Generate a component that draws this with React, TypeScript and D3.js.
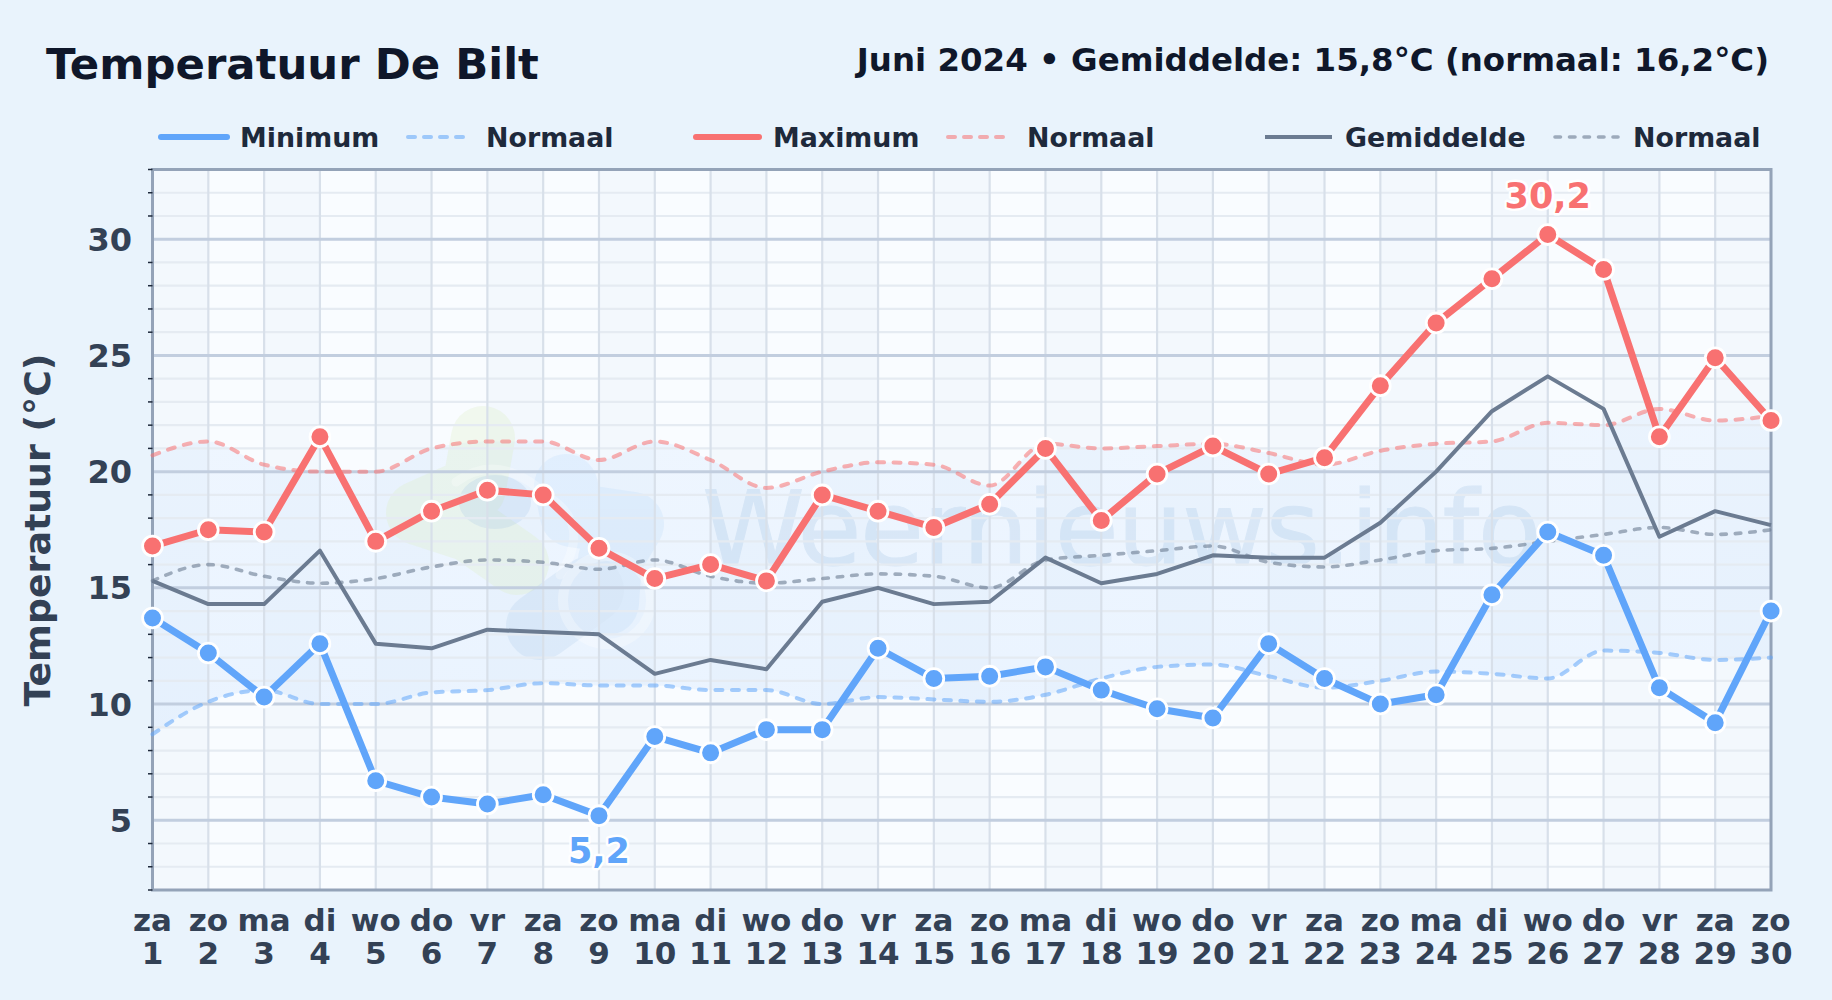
import * as d3 from "d3";

const weekdays = ["za", "zo", "ma", "di", "wo", "do", "vr", "za", "zo", "ma", "di", "wo", "do", "vr", "za", "zo", "ma", "di", "wo", "do", "vr", "za", "zo", "ma", "di", "wo", "do", "vr", "za", "zo"];
const days = d3.range(1, 31);

const tempMin = [13.7, 12.2, 10.3, 12.6, 6.7, 6.0, 5.7, 6.1, 5.2, 8.6, 7.9, 8.9, 8.9, 12.4, 11.1, 11.2, 11.6, 10.6, 9.8, 9.4, 12.6, 11.1, 10.0, 10.4, 14.7, 17.4, 16.4, 10.7, 9.2, 14.0];
const tempMax = [16.8, 17.5, 17.4, 21.5, 17.0, 18.3, 19.2, 19.0, 16.7, 15.4, 16.0, 15.3, 19.0, 18.3, 17.6, 18.6, 21.0, 17.9, 19.9, 21.1, 19.9, 20.6, 23.7, 26.4, 28.3, 30.2, 28.7, 21.5, 24.9, 22.2];
const tempMean = [15.3, 14.3, 14.3, 16.6, 12.6, 12.4, 13.2, 13.1, 13.0, 11.3, 11.9, 11.5, 14.4, 15.0, 14.3, 14.4, 16.3, 15.2, 15.6, 16.4, 16.3, 16.3, 17.8, 20.0, 22.6, 24.1, 22.7, 17.2, 18.3, 17.7];
const normalMin = [8.7, 10.1, 10.6, 10.0, 10.0, 10.5, 10.6, 10.9, 10.8, 10.8, 10.6, 10.6, 10.0, 10.3, 10.2, 10.1, 10.4, 11.1, 11.6, 11.7, 11.2, 10.7, 11.0, 11.4, 11.3, 11.1, 12.3, 12.2, 11.9, 12.0];
const normalMax = [20.7, 21.3, 20.3, 20.0, 20.0, 21.0, 21.3, 21.3, 20.5, 21.3, 20.5, 19.3, 20.0, 20.4, 20.3, 19.4, 21.2, 21.0, 21.1, 21.2, 20.8, 20.3, 20.9, 21.2, 21.3, 22.1, 22.0, 22.7, 22.2, 22.4];
const normalMean = [15.3, 16.0, 15.5, 15.2, 15.4, 15.9, 16.2, 16.1, 15.8, 16.2, 15.5, 15.2, 15.4, 15.6, 15.5, 15.0, 16.2, 16.4, 16.6, 16.8, 16.1, 15.9, 16.2, 16.6, 16.7, 17.0, 17.3, 17.6, 17.3, 17.5];

const BLUE = "#60a5fa";
const RED = "#f87171";
const GREY = "#6b7b91";
const FONT = "'DejaVu Sans', sans-serif";

const width = 1832;
const height = 1000;
const margin = { top: 169.5, right: 61, bottom: 110, left: 152.5 };

const x = d3.scalePoint(days, [margin.left, width - margin.right]);
const y = d3.scaleLinear([2, 33], [height - margin.bottom, margin.top]);

const straight = d3.line<number>().x((_, i) => x(days[i]) ?? 0).y((d) => y(d));
const smooth = d3.line<number>().x((_, i) => x(days[i]) ?? 0).y((d) => y(d)).curve(d3.curveMonotoneX);
const band = d3
  .area<number>()
  .x((_, i) => x(days[i]) ?? 0)
  .y0((_, i) => y(normalMin[i]))
  .y1((d) => y(d))
  .curve(d3.curveMonotoneX);

const majorTicks = y.ticks(6).filter((t) => t >= 5);
const minorTicks = d3.range(2, 34).filter((t) => t % 5 !== 0);

const legendItems = [
  { label: "Minimum", x0: 161, x1: 227, tx: 240, color: BLUE, w: 6, dash: "", opacity: 1 },
  { label: "Normaal", x0: 408, x1: 463, tx: 486, color: BLUE, w: 4, dash: "7 9", opacity: 0.55 },
  { label: "Maximum", x0: 696, x1: 759, tx: 773, color: RED, w: 6, dash: "", opacity: 1 },
  { label: "Normaal", x0: 948, x1: 1004, tx: 1027, color: RED, w: 4, dash: "7 9", opacity: 0.55 },
  { label: "Gemiddelde", x0: 1265, x1: 1332, tx: 1345, color: GREY, w: 4, dash: "", opacity: 1 },
  { label: "Normaal", x0: 1555, x1: 1618, tx: 1633, color: GREY, w: 3.6, dash: "5.5 9", opacity: 0.6 },
];

function Dots({ values, color }: { values: number[]; color: string }) {
  return (
    <g>
      {values.map((v, i) => (
        <circle key={i} cx={x(days[i])} cy={y(v)} r={9.9} fill={color} stroke="#fff" strokeWidth={2.8} />
      ))}
    </g>
  );
}

// faint logo and site name behind the lines
function Watermark() {
  return (
    <g>
      <g fill="none" strokeLinecap="round" strokeLinejoin="round">
        <path d="M483 438 L474 488 L418 513 L470 530 L517 563" stroke="#dff0c8" strokeWidth={64} opacity={0.3} />
        <g opacity={0.15}>
          <path d="M566 486 L572 515 L632 524 L610 560 L607 603" stroke="#9cc9f5" strokeWidth={64} />
          <path d="M590 590 L540 626" stroke="#8ab4e0" strokeWidth={68} />
        </g>
        <circle cx={607} cy={600} r={44} stroke="#fff" strokeWidth={10} opacity={0.3} />
        <path d="M456 482 Q500 450 550 498 Q592 525 560 575" stroke="#fff" strokeWidth={9} opacity={0.28} />
      </g>
      <ellipse cx={495} cy={502} rx={36} ry={27} fill="#8ab4e0" opacity={0.17} />
      <text
        x={702}
        y={565}
        fontFamily={FONT}
        fontSize={104}
        letterSpacing={-1.3}
        fill="#6b9fd0"
        stroke="#6b9fd0"
        strokeWidth={1}
        opacity={0.15}
      >
        Weernieuws.info
      </text>
    </g>
  );
}

export default function App() {
  const top = margin.top;
  const bottom = height - margin.bottom;
  const left = margin.left;
  const right = width - margin.right;
  const step = x.step();

  return (
    <svg
      width={width}
      height={height}
      viewBox={`0 0 ${width} ${height}`}
      style={{ position: "absolute", left: 0, top: 0, display: "block" }}
      fontFamily={FONT}
    >
      <defs>
        <linearGradient id="bandFill" x1="0" y1="0" x2="0" y2="1">
          <stop offset="0" stopColor="#bfdbfe" stopOpacity={0.18} />
          <stop offset="1" stopColor="#bfdbfe" stopOpacity={0.26} />
        </linearGradient>
      </defs>
      <rect width={width} height={height} fill="#e9f3fc" />

      <text x={46} y={79} fontSize={43.4} fontWeight={700} fill="#0f172a">
        Temperatuur De Bilt
      </text>
      <text x={1769} y={71} textAnchor="end" fontSize={32.45} fontWeight={700} fill="#0f172a">
        Juni 2024 • Gemiddelde: 15,8°C (normaal: 16,2°C)
      </text>

      {legendItems.map((item, i) => (
        <g key={i}>
          <line
            x1={item.x0}
            x2={item.x1}
            y1={137}
            y2={137}
            stroke={item.color}
            strokeWidth={item.w}
            strokeDasharray={item.dash || undefined}
            strokeLinecap={item.label === "Gemiddelde" ? "butt" : "round"}
            opacity={item.opacity}
          />
          <text x={item.tx} y={146.5} fontSize={26.85} fontWeight={700} fill="#1e293b">
            {item.label}
          </text>
        </g>
      ))}

      <rect x={left} y={top} width={right - left} height={bottom - top} fill="#f9fcff" />
      {days.slice(0, -1).map((d, i) =>
        i % 2 === 0 ? (
          <rect key={d} x={x(d)} y={top} width={step} height={bottom - top} fill="#f3f8fd" />
        ) : null
      )}
      <path d={band(normalMax) ?? ""} fill="url(#bandFill)" />
      <Watermark />

      {minorTicks.map((t) => (
        <line key={t} x1={left} x2={right} y1={y(t)} y2={y(t)} stroke="#e5ebf2" strokeWidth={2.2} />
      ))}
      {days.map((d) => (
        <line key={d} x1={x(d)} x2={x(d)} y1={top} y2={bottom} stroke="#d8e0ea" strokeWidth={2.2} />
      ))}
      {majorTicks.map((t) => (
        <line key={t} x1={left} x2={right} y1={y(t)} y2={y(t)} stroke="#c2cedf" strokeWidth={3} />
      ))}

      <rect x={left} y={top} width={right - left} height={bottom - top} fill="none" stroke="#94a3b8" strokeWidth={3} />

      {minorTicks.map((t) => (
        <line key={t} x1={left - 4.5} x2={left} y1={y(t)} y2={y(t)} stroke="#1e293b" strokeWidth={1.5} />
      ))}
      {majorTicks.map((t) => (
        <text key={t} x={132} y={y(t) + 11.5} textAnchor="end" fontSize={32} fontWeight={700} fill="#334155">
          {t}
        </text>
      ))}
      {days.map((d, i) => (
        <g key={d} fontSize={31} fontWeight={700} fill="#334155" textAnchor="middle">
          <text x={x(d)} y={931}>{weekdays[i]}</text>
          <text x={x(d)} y={964}>{d}</text>
        </g>
      ))}
      <text
        transform="translate(50,530) rotate(-90)"
        textAnchor="middle"
        fontSize={36.3}
        fontWeight={700}
        fill="#334155"
      >
        Temperatuur (°C)
      </text>

      <g fill="none">
        <path d={smooth(normalMin) ?? ""} stroke={BLUE} strokeOpacity={0.55} strokeWidth={4} strokeDasharray="7 9.5" strokeLinecap="round" />
        <path d={smooth(normalMax) ?? ""} stroke={RED} strokeOpacity={0.55} strokeWidth={4} strokeDasharray="7 9.5" strokeLinecap="round" />
        <path d={smooth(normalMean) ?? ""} stroke={GREY} strokeOpacity={0.6} strokeWidth={3.6} strokeDasharray="5.5 9" strokeLinecap="round" />
        <path d={straight(tempMean) ?? ""} stroke={GREY} strokeWidth={4} strokeLinejoin="round" />
        <path d={straight(tempMin) ?? ""} stroke={BLUE} strokeWidth={7} strokeLinejoin="round" />
        <path d={straight(tempMax) ?? ""} stroke={RED} strokeWidth={7} strokeLinejoin="round" />
      </g>
      <Dots values={tempMin} color={BLUE} />
      <Dots values={tempMax} color={RED} />

      <g fontSize={35} fontWeight={700} textAnchor="middle" stroke="#fff" strokeWidth={5} paintOrder="stroke" strokeLinejoin="round">
        <text x={x(26)} y={207.5} fill={RED}>30,2</text>
        <text x={x(9)} y={862.5} fill={BLUE}>5,2</text>
      </g>
    </svg>
  );
}
